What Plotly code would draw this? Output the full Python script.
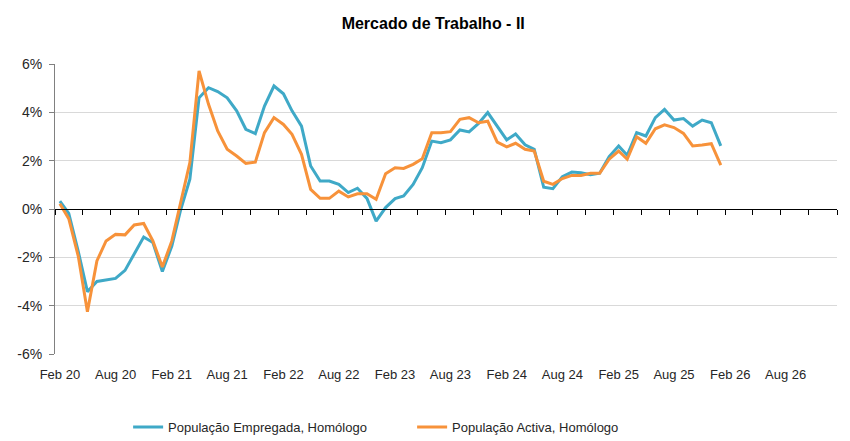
import plotly.graph_objects as go
import pandas as pd

# Monthly dates Feb 2020 - Jan 2026
dates = pd.date_range("2020-02-01", "2026-01-01", freq="MS").strftime("%Y-%m-%d").tolist()

empregada = [
    0.33, -0.18, -1.75, -3.42, -3.00, -2.94, -2.87, -2.54, -1.87, -1.16, -1.39, -2.59,
    -1.53, -0.08, 1.23, 4.60, 5.02, 4.86, 4.60, 4.06, 3.30, 3.12, 4.26, 5.09,
    4.77, 4.06, 3.43, 1.78, 1.16, 1.16, 1.02, 0.68, 0.86, 0.44, -0.50, 0.06,
    0.43, 0.54, 1.02, 1.71, 2.81, 2.74, 2.86, 3.27, 3.19, 3.54, 3.99, 3.43,
    2.86, 3.10, 2.66, 2.47, 0.90, 0.84, 1.34, 1.53, 1.50, 1.42, 1.48, 2.17,
    2.61, 2.22, 3.16, 3.02, 3.78, 4.12, 3.68, 3.74, 3.43, 3.68, 3.57, 2.61,
]
activa = [
    0.22, -0.40, -1.95, -4.25, -2.15, -1.32, -1.05, -1.07, -0.66, -0.60, -1.32, -2.40,
    -1.32, 0.19, 1.92, 5.71, 4.33, 3.23, 2.47, 2.19, 1.89, 1.94, 3.16, 3.78,
    3.50, 3.09, 2.26, 0.81, 0.44, 0.44, 0.74, 0.50, 0.63, 0.63, 0.40, 1.46,
    1.71, 1.68, 1.85, 2.08, 3.16, 3.16, 3.20, 3.71, 3.78, 3.57, 3.63, 2.77,
    2.57, 2.72, 2.47, 2.40, 1.15, 1.02, 1.26, 1.39, 1.39, 1.48, 1.48, 2.06,
    2.40, 2.06, 2.99, 2.72, 3.32, 3.48, 3.37, 3.13, 2.61, 2.65, 2.70, 1.82,
]

y_tickvals = [-6, -4, -2, 0, 2, 4, 6]
y_ticktext = ["-6%", "-4%", "-2%", "0%", "2%", "4%", "6%"]

name_emp = "População Empregada, Homólogo"
name_act = "População Activa, Homólogo"

x_range = ["2020-01-16", "2027-01-16"]

fig = go.Figure()
fig.add_trace(go.Scatter(x=dates, y=empregada, mode="lines", name=name_emp,
                         line=dict(color="#3FA9C7", width=3), xaxis="x", yaxis="y"))
fig.add_trace(go.Scatter(x=dates, y=activa, mode="lines", name=name_act,
                         line=dict(color="#F7923A", width=3), xaxis="x2", yaxis="y"))

font_axis = dict(family="Liberation Sans, Arial, sans-serif", size=13, color="#262626")
font_yaxis = dict(family="Liberation Sans, Arial, sans-serif", size=14, color="#262626")

fig.update_layout(
    width=842, height=433,
    margin=dict(l=47, r=13, t=56, b=87, autoexpand=False),
    paper_bgcolor="white", plot_bgcolor="white",
    title=dict(text="<b>Mercado de Trabalho - II</b>", x=0.505, xanchor="center",
               y=0.965, yanchor="middle",
               font=dict(family="Liberation Sans, Arial, sans-serif",
                         size=16, color="#000000")),
    xaxis=dict(type="date", range=x_range, tick0="2020-02-01", dtick="M6",
               tickformat="%b %y", showgrid=False, zeroline=False, showline=False,
               ticks="outside", ticklen=8, tickcolor="rgba(0,0,0,0)",
               tickfont=font_axis, automargin=False),
    xaxis2=dict(type="date", matches="x", overlaying="x", anchor="free", position=0.5,
                range=x_range, tick0="2020-01-16", dtick="M3",
                showticklabels=False, showgrid=False, zeroline=False,
                showline=True, linecolor="#000000", linewidth=1,
                ticks="outside", ticklen=5, tickcolor="#000000", tickwidth=1,
                automargin=False),
    yaxis=dict(range=[-6, 6], tickvals=y_tickvals, ticktext=y_ticktext,
               showgrid=True, gridcolor="#D9D9D9", gridwidth=1,
               zeroline=True, zerolinecolor="#000000", zerolinewidth=1,
               showline=True, linecolor="#808080", linewidth=1,
               ticks="outside", ticklen=5, tickcolor="#808080",
               ticklabelstandoff=4,
               tickfont=font_yaxis, automargin=False),
    legend=dict(orientation="h", x=0.0935, xanchor="left",
                yref="container", y=0.032, yanchor="middle",
                font=dict(family="Liberation Sans, Arial, sans-serif", size=13, color="#262626"),
                entrywidth=239, entrywidthmode="pixels", traceorder="normal"),
    showlegend=True,
)

fig.write_html("out.html")
